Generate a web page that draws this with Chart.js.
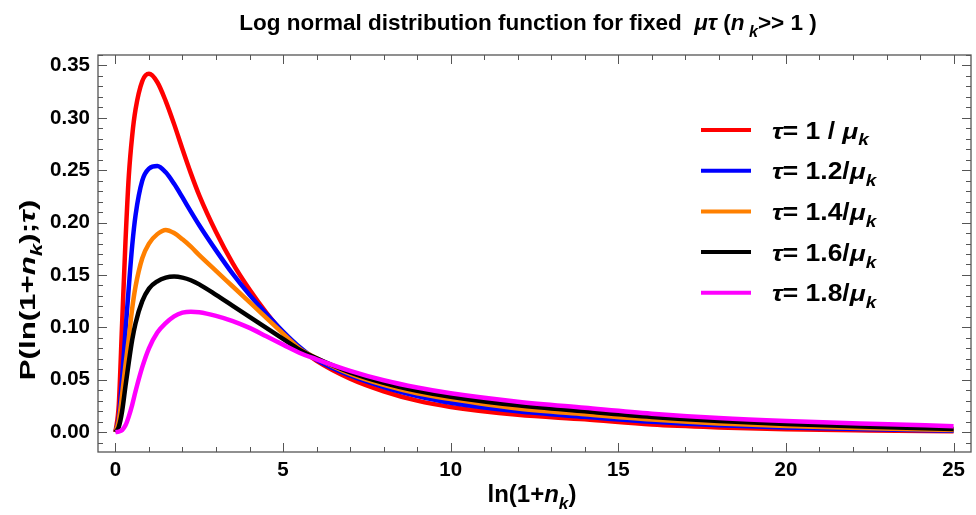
<!DOCTYPE html>
<html lang="en">
<head>
    <meta charset="UTF-8">
    <title>Log normal distribution</title>
    <script src="https://cdn.jsdelivr.net/npm/chart.js"></script>
    <style>
        html, body { margin: 0; padding: 0; background: #fff; }
        canvas { display: block; }
    </style>
</head>
<body>
    <canvas id="lnChart" width="976" height="515"></canvas>
    <script>
        // x grid = ln(1+n_k)
        const xs = [0, 0.1, 0.2, 0.3, 0.4, 0.5, 0.6, 0.8, 1.0, 1.25, 1.5, 1.75, 2.0, 2.25, 2.5, 3.0, 3.5,
                    4.0, 4.5, 5.0, 5.5, 6, 7, 8, 9, 10, 12, 14, 16, 18, 20, 22.5, 25];

        const tau10 = [0, 0.026, 0.104, 0.182, 0.245, 0.283, 0.308, 0.335, 0.342, 0.334, 0.316, 0.294, 0.270, 0.247, 0.226,
                       0.191, 0.161, 0.136, 0.114, 0.095, 0.080, 0.068, 0.051, 0.039, 0.030, 0.024, 0.0165, 0.0122,
                       0.0072, 0.0045, 0.0028, 0.0016, 0.0007];
        const tau12 = [0, 0.014, 0.052, 0.097, 0.139, 0.178, 0.207, 0.240, 0.2515, 0.254, 0.248, 0.237, 0.224, 0.2105, 0.1975,
                       0.1735, 0.151, 0.131, 0.113, 0.096, 0.081, 0.069, 0.054, 0.043, 0.0345, 0.028, 0.0198, 0.0146,
                       0.0098, 0.0066, 0.0044, 0.0026, 0.0013];
        const tau14 = [0, 0.011, 0.036, 0.064, 0.090, 0.118, 0.139, 0.166, 0.180, 0.189, 0.193, 0.190, 0.184, 0.177, 0.169,
                       0.154, 0.139, 0.124, 0.109, 0.094, 0.0795, 0.0705, 0.0555, 0.045, 0.037, 0.0315, 0.0225, 0.017,
                       0.012, 0.0083, 0.0058, 0.0037, 0.002];
        const tau16 = [0, 0.005, 0.020, 0.044, 0.067, 0.088, 0.104, 0.125, 0.137, 0.144, 0.1475, 0.1485, 0.1475, 0.145, 0.141,
                       0.131, 0.1205, 0.110, 0.0995, 0.089, 0.0785, 0.0705, 0.057, 0.047, 0.0395, 0.0338, 0.0255, 0.0198,
                       0.0145, 0.0105, 0.0077, 0.0052, 0.003];
        const tau18 = [0, 0.0005, 0.002, 0.0065, 0.015, 0.026, 0.039, 0.062, 0.080, 0.095, 0.104, 0.1105, 0.114, 0.115, 0.1145,
                       0.111, 0.106, 0.0995, 0.0915, 0.0835, 0.0755, 0.0695, 0.0585, 0.0495, 0.0425, 0.037, 0.029, 0.0232,
                       0.0176, 0.0134, 0.0105, 0.0079, 0.0057];

        const tauLabels = ['1', '1.2', '1.4', '1.6', '1.8'];
        const colors = ['#ff0000', '#0000ff', '#ff8000', '#000000', '#ff00ff'];
        const xTicks = [0, 5, 10, 15, 20, 25];
        const yTicks = [0, 0.05, 0.10, 0.15, 0.20, 0.25, 0.30, 0.35];

        const FONT = '"Liberation Sans", Arial, sans-serif';

        // runs: [text, italic, subscript]; sx stretches along the text direction
        function drawRich(ctx, runs, x, y, size, align, sx = 1) {
            let total = 0;
            const parts = runs.map(([t, it, sub]) => {
                const s = sub ? size * 0.72 : size;
                const font = (it ? 'italic ' : '') + 'bold ' + s + 'px ' + FONT;
                ctx.font = font;
                const w = ctx.measureText(t).width;
                total += w;
                return { t, font, w, dy: sub ? size * 0.3 : 0 };
            });
            ctx.save();
            ctx.translate(x, y);
            ctx.scale(sx, 1);
            let cx = align === 'center' ? -total / 2 : 0;
            ctx.textAlign = 'left';
            ctx.textBaseline = 'alphabetic';
            parts.forEach(p => {
                ctx.font = p.font;
                ctx.fillText(p.t, cx, p.dy);
                cx += p.w;
            });
            ctx.restore();
        }

        const frameTicks = {
            id: 'frameTicks',
            beforeDatasetsDraw(chart) {
                const { ctx, chartArea: { left, right, top, bottom }, scales: { x, y } } = chart;
                ctx.save();
                ctx.strokeStyle = '#555';
                ctx.lineWidth = 1.3;
                ctx.strokeRect(left, top, right - left, bottom - top);
                ctx.lineWidth = 1;
                ctx.beginPath();
                for (let i = 0; i <= 25; i++) {
                    const px = Math.round(x.getPixelForValue(i)) + 0.5;
                    const len = i % 5 === 0 ? 9 : 5;
                    ctx.moveTo(px, bottom); ctx.lineTo(px, bottom - len);
                    ctx.moveTo(px, top); ctx.lineTo(px, top + len);
                }
                for (let j = -1; j <= 36; j++) {
                    const py = Math.round(y.getPixelForValue(j / 100)) + 0.5;
                    if (py < top || py > bottom) continue;
                    const len = j % 5 === 0 ? 9 : 5;
                    ctx.moveTo(left, py); ctx.lineTo(left + len, py);
                    ctx.moveTo(right, py); ctx.lineTo(right - len, py);
                }
                ctx.stroke();
                ctx.restore();
            },
            afterDraw(chart) {
                const { ctx } = chart;
                ctx.save();
                ctx.fillStyle = '#000';

                // title
                drawRich(ctx, [
                    ['Log normal distribution function for fixed  ', 0, 0],
                    ['\u03bc\u03c4', 1, 0],
                    [' (', 0, 0], ['n', 1, 0], [' k', 1, 1], ['>> 1 )', 0, 0]
                ], 528, 30, 22.5, 'center');

                // x axis title
                drawRich(ctx, [['ln(1+', 0, 0], ['n', 1, 0], ['k', 1, 1], [')', 0, 0]], 532, 502, 24, 'center');

                // y axis title
                ctx.save();
                ctx.translate(35, 290);
                ctx.rotate(-Math.PI / 2);
                drawRich(ctx, [['P(ln(1+', 0, 0], ['n', 1, 0], ['k', 1, 1], [');', 0, 0], ['\u03c4', 1, 0], [')', 0, 0]],
                         0, 0, 22, 'center', 1.42);
                ctx.restore();

                // legend
                tauLabels.forEach((lab, i) => {
                    const ly = 130 + i * 40.7;
                    ctx.strokeStyle = colors[i];
                    ctx.lineWidth = 4;
                    ctx.beginPath();
                    ctx.moveTo(701, ly); ctx.lineTo(751, ly);
                    ctx.stroke();
                    const mid = i === 0 ? '= ' + lab + ' / ' : '= ' + lab + '/';
                    drawRich(ctx, [['\u03c4', 1, 0], [mid, 0, 0], ['\u03bc', 1, 0], ['k', 1, 1]], 772, ly + 8.5, 23, 'left', 1.15);
                });
                ctx.restore();
            }
        };

        const series = [tau10, tau12, tau14, tau16, tau18];
        const datasets = series.map((vals, i) => ({
            label: 'tau = ' + tauLabels[i],
            data: xs.map((x, k) => ({ x: x, y: vals[k] })),
            borderColor: colors[i],
            backgroundColor: colors[i],
            borderWidth: 4.5,
            pointRadius: 0,
            cubicInterpolationMode: 'monotone',
            fill: false,
            order: series.length - i
        }));

        const tickFont = { family: FONT, size: 20.5, weight: 'bold' };

        new Chart(document.getElementById('lnChart').getContext('2d'), {
            type: 'line',
            data: { datasets },
            options: {
                responsive: false,
                animation: false,
                layout: { padding: { top: 55, right: 5, left: 0, bottom: 0 } },
                plugins: {
                    legend: { display: false },
                    title: { display: false },
                    tooltip: { enabled: false }
                },
                scales: {
                    x: {
                        type: 'linear',
                        min: -0.52,
                        max: 25.52,
                        afterBuildTicks: s => { s.ticks = xTicks.map(v => ({ value: v })); },
                        afterFit: s => { s.height = 63; },
                        ticks: { font: tickFont, color: '#000', padding: 6, maxRotation: 0, autoSkip: false },
                        grid: { display: false, drawTicks: false },
                        border: { display: false }
                    },
                    y: {
                        type: 'linear',
                        min: -0.019,
                        max: 0.36,
                        afterBuildTicks: s => { s.ticks = yTicks.map(v => ({ value: v })); },
                        afterFit: s => { s.width = 98; },
                        ticks: {
                            font: tickFont, color: '#000', padding: 8, autoSkip: false,
                            callback: v => v.toFixed(2)
                        },
                        grid: { display: false, drawTicks: false },
                        border: { display: false }
                    }
                }
            },
            plugins: [frameTicks]
        });
    </script>
</body>
</html>
